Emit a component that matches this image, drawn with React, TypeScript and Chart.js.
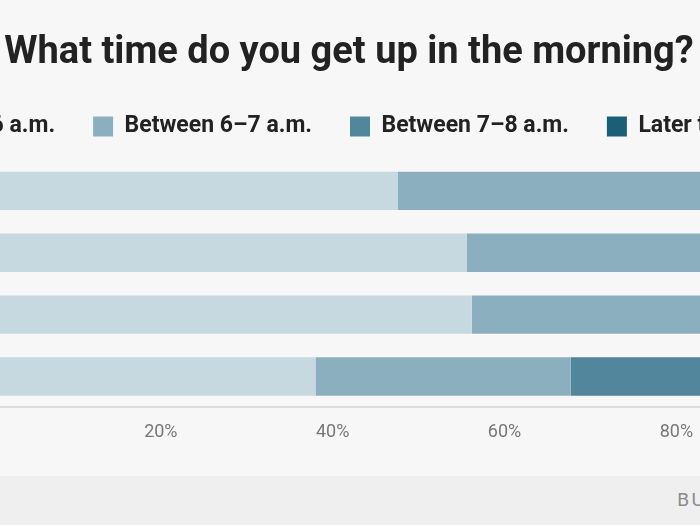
import React, { useEffect, useRef } from "react";
import { Chart, registerables } from "chart.js";

Chart.register(...registerables);

// ---- data ----
const categories = ["18–29", "30–44", "45–59", "60+"];
const seriesNames = ["Before 6 a.m.", "Between 6–7 a.m.", "Between 7–8 a.m.", "Later than 8 a.m."];
const before6 = [47.6, 55.6, 56.2, 38.0];
const between67 = [40.0, 33.0, 32.0, 29.7];
const between78 = [9.0, 8.4, 9.0, 22.0];
const later8 = [3.4, 3.0, 2.8, 10.3];
const xTickValues = [0, 20, 40, 60, 80, 100];
const titleText = "What time do you get up in the morning?";

// ---- styles ----
const seriesColors = ["#c6d8e0", "#8cafbf", "#52869c", "#1a5e78"];
const CANVAS_W = 1070;
const CANVAS_H = 476;
const CANVAS_LEFT = -186;

const legendSpacer = {
  id: "legendSpacer",
  beforeInit(chart: any) {
    const fit = chart.legend.fit;
    chart.legend.fit = function () {
      fit.call(this);
      this.height += 12;
    };
  },
};

export default function App() {
  const ref = useRef<HTMLCanvasElement | null>(null);

  useEffect(() => {
    if (!ref.current) return;
    const values = [before6, between67, between78, later8];
    const chart = new Chart(ref.current, {
      type: "bar",
      data: {
        labels: categories,
        datasets: seriesNames.map((name, i) => ({
          label: name,
          data: values[i],
          backgroundColor: seriesColors[i],
          borderWidth: 0,
          barPercentage: 0.62,
          categoryPercentage: 1,
        })),
      },
      options: {
        indexAxis: "y",
        responsive: false,
        animation: false,
        layout: { padding: { top: 0, bottom: 19, left: 0, right: 0 } },
        plugins: {
          title: {
            display: true,
            text: titleText,
            color: "#222222",
            font: { family: "'Roboto', sans-serif", size: 38, weight: "bold", lineHeight: 1 },
            padding: { top: 34, bottom: 5 },
          },
          legend: {
            display: true,
            position: "top",
            labels: {
              boxWidth: 20,
              boxHeight: 20,
              padding: 38,
              color: "#222222",
              font: { family: "'Roboto', sans-serif", size: 23, weight: "bold" },
            },
          },
          tooltip: { enabled: false },
        },
        scales: {
          x: {
            stacked: true,
            min: 0,
            max: 100,
            afterBuildTicks: (s: any) => {
              s.ticks = xTickValues.map((v) => ({ value: v }));
            },
            ticks: {
              callback: (v: any) => v + "%",
              color: "#777777",
              font: { family: "Roboto", size: 18 },
              padding: 14,
              maxRotation: 0,
            },
            grid: { display: false, drawTicks: false },
            border: { display: true, color: "#dcdcdc", width: 2 },
          },
          y: {
            stacked: true,
            ticks: { display: false },
            grid: { display: false, drawTicks: false },
            border: { display: false },
            afterFit: (s: any) => {
              s.width = 175;
            },
          },
        },
      },
      plugins: [legendSpacer],
    });
    return () => chart.destroy();
  }, []);

  return (
    <div
      style={{
        position: "fixed",
        left: 0,
        top: 0,
        width: 700,
        height: 525,
        overflow: "hidden",
        background: "#f7f7f7",
      }}
    >
      <div style={{ position: "absolute", left: CANVAS_LEFT, top: 0, width: CANVAS_W, height: CANVAS_H }}>
        <canvas ref={ref} width={CANVAS_W} height={CANVAS_H} style={{ display: "block" }} />
      </div>
      <div
        style={{
          position: "absolute",
          left: 0,
          top: CANVAS_H,
          width: 700,
          height: 525 - CANVAS_H,
          background: "#efefef",
        }}
      >
        <span
          style={{
            position: "absolute",
            left: 677,
            top: 13,
            whiteSpace: "nowrap",
            fontFamily: "'DejaVu Sans', sans-serif",
            fontSize: 18,
            letterSpacing: 2,
            color: "#8c8c8c",
          }}
        >
          BUSINESS INSIDER
        </span>
      </div>
    </div>
  );
}
